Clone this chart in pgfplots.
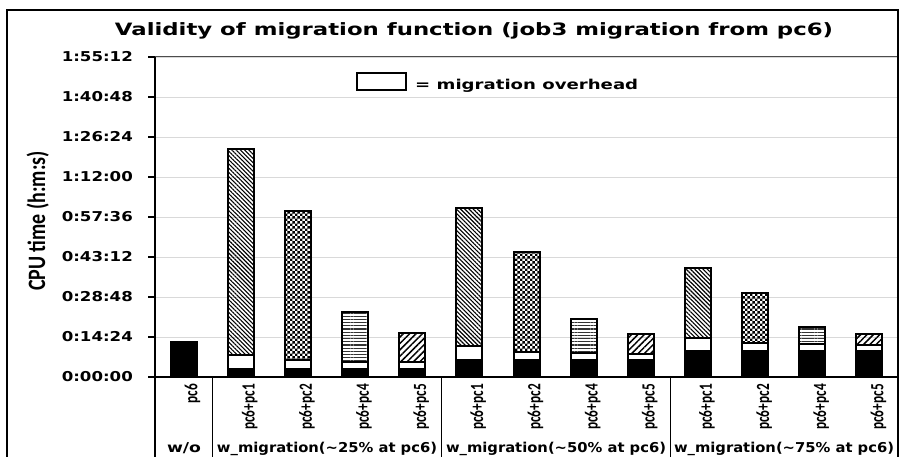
\documentclass[border=0pt]{standalone}
\usepackage{fontspec}
\usepackage{graphicx}
\usepackage{pgfplots}
\pgfplotsset{compat=1.18}
\usepackage{pgfplotstable}
\usetikzlibrary{patterns,patterns.meta}
\newfontfamily\dv{DejaVu Sans}
\newfontfamily\carl{Carlito}
\definecolor{gridgray}{HTML}{D9D9D9}
\pgfdeclarepatternformonly{bigcheck}{\pgfpointorigin}{\pgfqpoint{5.4pt}{5.4pt}}{\pgfqpoint{5.4pt}{5.4pt}}{%
  \pgfpathrectangle{\pgfpointorigin}{\pgfqpoint{2.7pt}{2.7pt}}%
  \pgfpathrectangle{\pgfqpoint{2.7pt}{2.7pt}}{\pgfqpoint{2.7pt}{2.7pt}}%
  \pgfusepath{fill}}
\newcommand{\tl}[1]{\scalebox{1.22}[1]{#1}}
\newcommand{\xl}[1]{\scalebox{1}[1.4]{#1}}
% CPU time in minutes; black = base, white = migration overhead, rest = remaining
\pgfplotstableread{
x black white pcA pcB pcC pcD
0 12.6 0   0    0    0    0
1 3.0  4.9 74.2 0    0    0
2 3.0  3.1 0    53.8 0    0
3 3.0  2.4 0    0    18.0 0
4 3.0  2.3 0    0    0    10.4
5 6.2  5.0 49.5 0    0    0
6 6.2  2.8 0    36.1 0    0
7 6.2  2.3 0    0    12.3 0
8 6.2  2.2 0    0    0    7.2
9 9.4  4.8 24.9 0    0    0
10 9.4 2.7 0    18.3 0    0
11 9.4 2.4 0    0    6.2  0
12 9.4 2.0 0    0    0    4.0
}\datatable
\begin{document}
\begin{tikzpicture}
\useasboundingbox (0pt,0pt) rectangle (902pt,-457pt);
\begin{axis}[
  at={(155pt,-377pt)}, anchor=south west,
  scale only axis, width=743pt, height=320pt,
  ybar stacked, bar width=0.455,
  xmin=-0.5, xmax=12.5, ymin=0, ymax=115.2,
  xtick=data,
  xticklabels={\xl{pc6},\xl{pc6+pc1},\xl{pc6+pc2},\xl{pc6+pc4},\xl{pc6+pc5},\xl{pc6+pc1},\xl{pc6+pc2},\xl{pc6+pc4},\xl{pc6+pc5},\xl{pc6+pc1},\xl{pc6+pc2},\xl{pc6+pc4},\xl{pc6+pc5}},
  xticklabel style={rotate=90, anchor=east, inner sep=0pt, font=\carl\bfseries\fontsize{13.3}{15}\selectfont, yshift=-9pt},
  xtick style={draw=none},
  ytick={0,14.4,28.8,43.2,57.6,72,86.4,100.8,115.2},
  yticklabels={\tl{0:00:00},\tl{0:14:24},\tl{0:28:48},\tl{0:43:12},\tl{0:57:36},\tl{1:12:00},\tl{1:26:24},\tl{1:40:48},\tl{1:55:12}},
  yticklabel style={font=\dv\bfseries\fontsize{13.6}{15}\selectfont, inner sep=0pt, xshift=-15pt},
  ytick pos=left, tick align=outside, major tick length=7pt,
  ytick style={line width=1.5pt, black},
  ymajorgrids, major grid style={gridgray, line width=0.9pt},
  axis line style={draw=black!70, line width=1pt},
  legend style={at={(0.2705,0.953)}, anchor=north west, draw=none, fill=none, inner sep=0pt,
    nodes={inner sep=0pt, font=\dv\bfseries\fontsize{13.6}{15}\selectfont},
    /tikz/every odd column/.append style={column sep=8pt}},
  legend image code/.code={\draw[line width=2pt, fill=white] (0pt,-4.5pt) rectangle (49pt,12pt);},
]
\addplot[fill=black, draw=black, line width=2pt, forget plot] table[x=x, y=black] {\datatable};
\addplot[fill=white, draw=black, line width=2pt] table[x=x, y=white] {\datatable};
\addlegendentry{\resizebox{223pt}{\height}{= migration overhead}}
\addplot[draw=black, line width=2pt, pattern={Lines[angle=-45, distance=3pt, line width=1.1pt]}, forget plot] table[x=x, y=pcA] {\datatable};
\addplot[draw=black, line width=2pt, pattern=bigcheck, forget plot] table[x=x, y=pcB] {\datatable};
\addplot[draw=black, line width=2pt, pattern={Lines[angle=0, distance=3.2pt, line width=1.1pt]}, pattern color=black!80, forget plot] table[x=x, y=pcC] {\datatable};
\addplot[draw=black, line width=2pt, pattern={Lines[angle=45, distance=4.5pt, line width=1.5pt]}, forget plot] table[x=x, y=pcD] {\datatable};
\end{axis}
\begin{scope}[x=1pt,y=1pt]
% frame and category separators
\draw[line width=2pt] (7,-457) -- (7,-10) -- (898,-10) -- (898,-457);
\draw[line width=2pt] (155,-57) -- (155,-457);
\draw[line width=2pt] (155,-377) -- (898,-377);
\draw[line width=1pt] (212,-377) -- (212,-457);
\draw[line width=1pt] (441,-377) -- (441,-457);
\draw[line width=1pt] (670,-377) -- (670,-457);
% title and labels
\node[anchor=base, inner sep=0pt] at (474,-36) {\dv\bfseries\fontsize{17}{20}\selectfont\resizebox{718pt}{\height}{Validity of migration function (job3 migration from pc6)}};
\node[rotate=90, anchor=base, inner sep=0pt] at (45,-221) {\carl\bfseries\fontsize{20}{24}\selectfont\scalebox{1}[1.25]{CPU time (h:m:s)}};
\begin{scope}[every node/.style={anchor=base, inner sep=0pt, font=\dv\bfseries\fontsize{13.6}{15}\selectfont}]
\node at (184,-452.5) {\resizebox{34pt}{\height}{w/o}};
\node at (327,-452.5) {\resizebox{220pt}{\height}{w\_migration(\textasciitilde 25\% at pc6)}};
\node at (556,-452.5) {\resizebox{220pt}{\height}{w\_migration(\textasciitilde 50\% at pc6)}};
\node at (784,-452.5) {\resizebox{220pt}{\height}{w\_migration(\textasciitilde 75\% at pc6)}};
\end{scope}
\end{scope}
\end{tikzpicture}
\end{document}
